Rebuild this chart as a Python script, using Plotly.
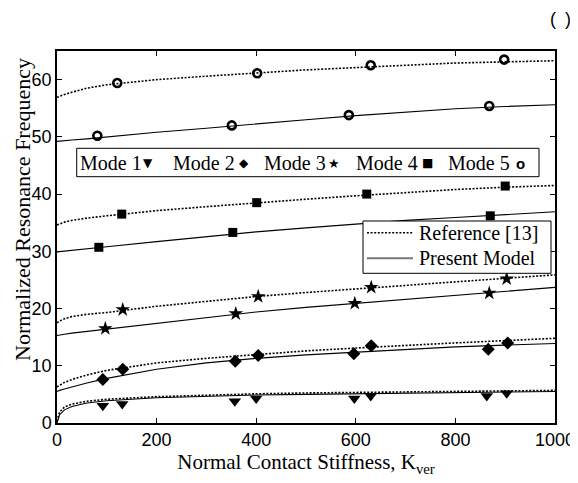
import plotly.graph_objects as go

# ---------------- data ----------------
kx = [0, 5, 15, 30, 60, 100, 200, 300, 400, 500, 600, 700, 800, 900, 1000]

ref1 = [0.3, 1.9, 2.8, 3.3, 3.8, 4.15, 4.6, 4.9, 5.1, 5.25, 5.35, 5.45, 5.55, 5.62, 5.7]
pre1 = [0.0, 1.4, 2.3, 2.9, 3.5, 3.9, 4.4, 4.7, 4.9, 5.0, 5.1, 5.2, 5.3, 5.4, 5.5]
ref2 = [6.3, 6.6, 7.1, 7.6, 8.4, 9.2, 10.5, 11.3, 12.0, 12.6, 13.1, 13.6, 14.0, 14.4, 14.8]
pre2 = [5.5, 5.7, 5.95, 6.3, 7.0, 7.8, 9.4, 10.5, 11.3, 11.9, 12.4, 12.9, 13.3, 13.6, 13.9]
ref3 = [17.5, 17.8, 18.2, 18.6, 19.0, 19.3, 20.4, 21.3, 22.1, 22.8, 23.4, 24.1, 24.7, 25.3, 25.9]
pre3 = [15.3, 15.4, 15.5, 15.7, 16.0, 16.4, 17.5, 18.5, 19.4, 20.2, 20.9, 21.6, 22.3, 23.0, 23.7]
ref4 = [34.6, 34.8, 35.1, 35.4, 35.8, 36.2, 37.1, 37.8, 38.5, 39.1, 39.7, 40.3, 40.8, 41.2, 41.5]
pre4 = [29.9, 29.95, 30.05, 30.2, 30.4, 30.8, 31.7, 32.6, 33.4, 34.1, 34.8, 35.4, 35.9, 36.4, 36.9]
ref5 = [56.9, 57.1, 57.4, 57.8, 58.5, 59.1, 60.0, 60.6, 61.2, 61.7, 62.1, 62.5, 62.9, 63.1, 63.3]
pre5 = [49.2, 49.25, 49.35, 49.45, 49.65, 50.0, 50.8, 51.5, 52.3, 53.0, 53.7, 54.3, 54.9, 55.3, 55.6]

m1_x = [92, 131, 357, 400, 597, 630, 863, 903]
m1_y = [3.0, 3.3, 3.8, 4.3, 4.3, 4.7, 4.7, 5.2]
m2_x = [92, 132, 358, 404, 596, 631, 866, 905]
m2_y = [7.6, 9.4, 10.8, 11.8, 12.1, 13.5, 12.9, 14.0]
m3_x = [97, 132, 359, 404, 598, 631, 868, 903]
m3_y = [16.5, 19.8, 19.1, 22.1, 20.9, 23.7, 22.7, 25.2]
m4_x = [84, 130, 353, 401, 622, 870, 900]
m4_y = [30.7, 36.5, 33.3, 38.5, 40.0, 36.2, 41.4]
m5_x = [81, 121, 351, 402, 586, 630, 868, 898]
m5_y = [50.2, 59.4, 52.0, 61.1, 53.8, 62.5, 55.4, 63.5]

x_ticks = [0, 200, 400, 600, 800, 1000]
y_ticks = [0, 10, 20, 30, 40, 50, 60]

mode_names = ["Mode 1", "Mode 2", "Mode 3", "Mode 4", "Mode 5"]
mode_glyphs = ["▼", "◆", "★", "■", "<b>o</b>"]

# ---------------- figure ----------------
fig = go.Figure()
SERIF = "Liberation Serif"
SANS = "Liberation Sans"

refs = [ref1, ref2, ref3, ref4, ref5]
pres = [pre1, pre2, pre3, pre4, pre5]
mxs = [m1_x, m2_x, m3_x, m4_x, m5_x]
mys = [m1_y, m2_y, m3_y, m4_y, m5_y]
markers = [
    dict(symbol="triangle-down", size=11, color="black"),
    dict(symbol="diamond", size=10, color="black"),
    dict(symbol="star", size=11, color="black"),
    dict(symbol="square", size=9, color="black"),
    dict(symbol="circle-open", size=8, color="black", line=dict(width=2.6, color="black")),
]

for r, p in zip(refs, pres):
    fig.add_trace(go.Scatter(x=kx, y=r, mode="lines",
                             line=dict(color="black", width=1.6, dash="2px,1.6px"),
                             showlegend=False, hoverinfo="skip"))
    fig.add_trace(go.Scatter(x=kx, y=p, mode="lines",
                             line=dict(color="black", width=1.1),
                             showlegend=False, hoverinfo="skip"))
for mx, my, mk in zip(mxs, mys, markers):
    fig.add_trace(go.Scatter(x=mx, y=my, mode="markers", marker=mk,
                             showlegend=False, hoverinfo="skip"))

# target geometry in window pixels (page body has an 8px default margin)
OFF = 8
WIN_W, WIN_H = 578, 483
PL, PR, PT, PB = 57, 555, 51, 423        # plot area in window pixels
W, H = WIN_W - OFF, WIN_H - OFF
L, T = PL - OFF, PT - OFF
R, B = WIN_W - PR, WIN_H - PB
pw, ph = PR - PL, PB - PT


def px(xp):
    return (xp - PL) / pw


def py(yp):
    return (PB - yp) / ph


shapes = []
annotations = []

# Mode legend box
shapes.append(dict(type="rect", xref="paper", yref="paper", layer="above",
                   x0=px(76.7), x1=px(539), y0=py(176.7), y1=py(148.3),
                   fillcolor="white", line=dict(color="black", width=1)))
text_x = [79, 171.7, 263, 355, 447]
glyph_x = [147.7, 244, 334, 427.7, 520]
glyph_size = [12, 12, 13, 12, 15]
for name, tx, g, gx, gs in zip(mode_names, text_x, mode_glyphs, glyph_x, glyph_size):
    annotations.append(dict(text=name, xref="paper", yref="paper", x=px(tx - 1), y=py(163),
                            xanchor="left", yanchor="middle", showarrow=False,
                            font=dict(family=SERIF, size=20, color="black")))
    annotations.append(dict(text=g, xref="paper", yref="paper", x=px(gx), y=py(163),
                            xanchor="center", yanchor="middle", showarrow=False,
                            font=dict(family="DejaVu Sans" if "o" not in g else SANS,
                                      size=gs, color="black")))

# Line-style legend box
shapes.append(dict(type="rect", xref="paper", yref="paper", layer="above",
                   x0=px(363), x1=px(551), y0=py(273.3), y1=py(221),
                   fillcolor="white", line=dict(color="black", width=1)))
shapes.append(dict(type="line", xref="paper", yref="paper", layer="above",
                   x0=px(367), x1=px(413), y0=py(232.7), y1=py(232.7),
                   line=dict(color="black", width=1.6, dash="2px,1.6px")))
shapes.append(dict(type="line", xref="paper", yref="paper", layer="above",
                   x0=px(367), x1=px(413), y0=py(258.3), y1=py(258.3),
                   line=dict(color="#777777", width=2)))
annotations.append(dict(text="Reference [13]", xref="paper", yref="paper", x=px(417), y=py(232.7),
                        xanchor="left", yanchor="middle", showarrow=False,
                        font=dict(family=SERIF, size=20, color="black")))
annotations.append(dict(text="Present Model", xref="paper", yref="paper", x=px(417), y=py(258.3),
                        xanchor="left", yanchor="middle", showarrow=False,
                        font=dict(family=SERIF, size=20, color="black")))

# top-right "( )"
annotations.append(dict(text="(", xref="paper", yref="paper", x=px(553), y=py(19),
                        xanchor="center", yanchor="middle", showarrow=False,
                        font=dict(family=SANS, size=18, color="black")))
annotations.append(dict(text=")", xref="paper", yref="paper", x=px(568), y=py(19),
                        xanchor="center", yanchor="middle", showarrow=False,
                        font=dict(family=SANS, size=18, color="black")))

# y-axis title (placed as in the reference, slightly above centre)
annotations.append(dict(text="Normalized Resonance Frequency", xref="paper", yref="paper",
                        x=px(23), y=py(210), xanchor="center", yanchor="middle",
                        textangle=-90, showarrow=False, borderpad=0,
                        font=dict(family=SERIF, size=22, color="black")))

fig.update_layout(
    width=W, height=H,
    margin=dict(l=L, r=R, t=T, b=B, autoexpand=False),
    paper_bgcolor="white", plot_bgcolor="white",
    showlegend=False,
    shapes=shapes, annotations=annotations,
    xaxis=dict(range=[0, 1000], tickvals=x_ticks, ticks="inside", ticklen=5,
               tickcolor="black", showline=True, mirror="ticks", linecolor="black",
               linewidth=1.5, showgrid=False, zeroline=False, automargin=False,
               tickfont=dict(family=SANS, size=18, color="black"),
               title=dict(text="Normal Contact Stiffness, K<sub>ver</sub>",
                          font=dict(family=SERIF, size=21, color="black"), standoff=4)),
    yaxis=dict(range=[0, 65], tickvals=y_ticks, ticks="inside", ticklen=5,
               tickcolor="black", showline=True, mirror="ticks", linecolor="black",
               linewidth=1.5, showgrid=False, zeroline=False, automargin=False,
               tickfont=dict(family=SANS, size=18, color="black")),
)

fig.write_html("out.html")
